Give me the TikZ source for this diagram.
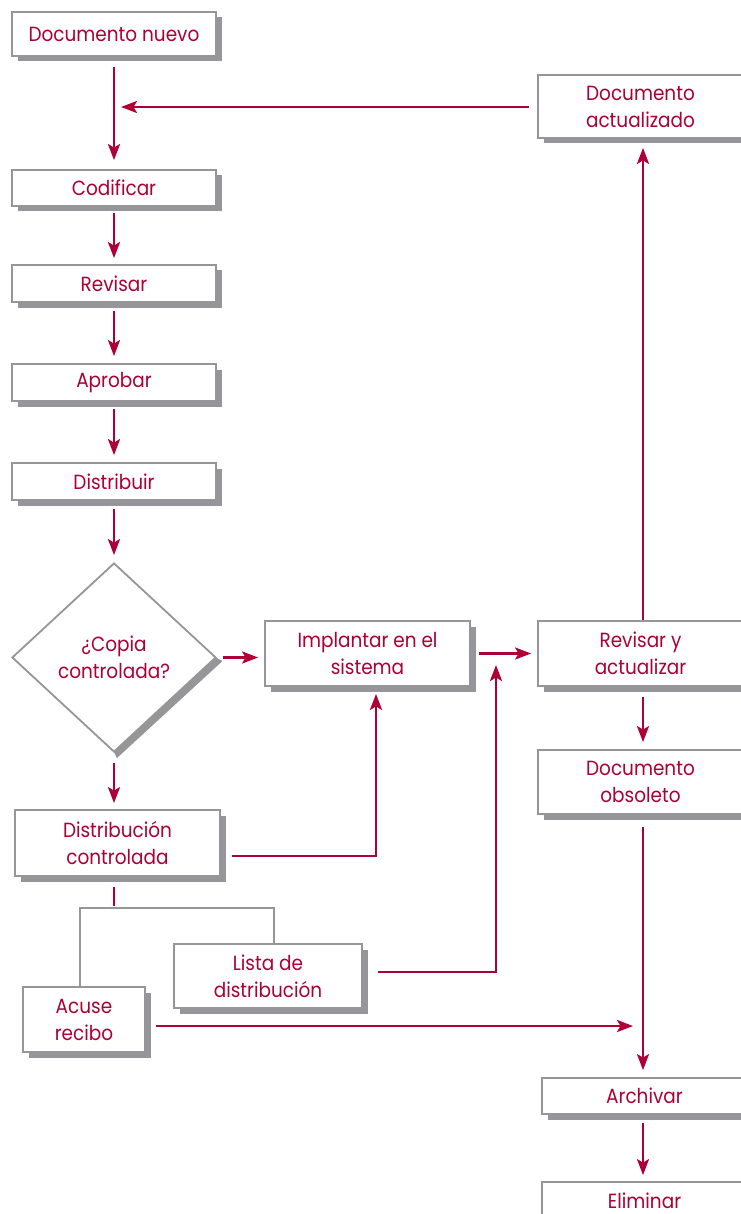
\documentclass[tikz,border=0pt]{standalone}
\usepackage{fontspec}
\setmainfont{Poppins}[FakeStretch=0.9]
\usetikzlibrary{arrows.meta,shapes.geometric,shadows}
\definecolor{crim}{RGB}{172,0,54}
\definecolor{bgray}{RGB}{150,150,152}
\definecolor{sgray}{RGB}{150,150,154}
\tikzset{
  box/.style={draw=bgray, line width=1.8pt, fill=white, text=crim, align=center,
    inner sep=0pt, font=\fontsize{20.5}{27}\selectfont,
    drop shadow={shadow xshift=5.5pt, shadow yshift=-5.5pt, fill=sgray, opacity=1}},
  arr/.style={draw=crim, line width=2.6pt, -{Stealth[length=16pt,width=12pt,inset=3.5pt]}},
  cline/.style={draw=crim, line width=2.6pt},
  gline/.style={draw=bgray, line width=2.2pt},
}
\begin{document}
\begin{tikzpicture}[x=1pt,y=-1pt]
\useasboundingbox (0,0) rectangle (740,1214);
% boxes
\node[box, minimum width=204pt, minimum height=44pt] (dn) at (114,34) {Documento nuevo};
\node[box, minimum width=204pt, minimum height=36pt] (cod) at (114,188) {Codificar};
\node[box, minimum width=204pt, minimum height=37pt] (rev) at (114,283.5) {Revisar};
\node[box, minimum width=204pt, minimum height=37pt] (apr) at (114,382.5) {Aprobar};
\node[box, minimum width=204pt, minimum height=37pt] (dis) at (114,481.5) {Distribuir};
% diamond
\fill[sgray] (216,657.5) -- (222.5,661) -- (117,758) -- (114,752) -- cycle;
\node[draw=bgray, line width=1.8pt, fill=white, text=crim, align=center, shape=diamond,
  inner sep=0pt, aspect=1, minimum width=204pt, minimum height=189pt,
  font=\fontsize{20.5}{27}\selectfont] (dia) at (114,657.5) {¿Copia\\controlada?};
\node[box, minimum width=205pt, minimum height=65pt] (imp) at (367.5,653.5) {Implantar en el\\sistema};
\node[box, minimum width=205pt, minimum height=65pt] (rya) at (640.5,653.5) {Revisar y\\actualizar};
\node[box, minimum width=205pt, minimum height=63pt] (da) at (640.5,106.5) {Documento\\actualizado};
\node[box, minimum width=205pt, minimum height=64pt] (dob) at (640.5,782) {Documento\\obsoleto};
\node[box, minimum width=205pt, minimum height=66pt] (dc) at (117.5,843) {Distribución\\controlada};
\node[box, minimum width=188pt, minimum height=64pt] (lis) at (268,976) {Lista de\\distribución};
\node[box, minimum width=122pt, minimum height=65pt] (acu) at (84,1019.5) {Acuse\\recibo};
\node[box, minimum width=205pt, minimum height=36pt] (arc) at (644.5,1096) {Archivar};
\node[box, minimum width=205pt, minimum height=37pt] (eli) at (644.5,1200.5) {Eliminar};
% helper coordinates
\coordinate (j1) at (121,107);
\coordinate (cx) at (643,0);
\coordinate (t0) at (114,906);
\coordinate (tl) at (80,908);
\coordinate (tr) at (274,908);
\coordinate (j2) at (496,665);
\coordinate (j3) at (633,1026);
% connectors
\draw[arr, shorten <=10pt, shorten >=9pt] (dn.south) -- (cod.north);
\draw[arr, shorten <=8pt] (da.west |- j1) -- (j1);
\draw[arr, shorten <=6pt, shorten >=6pt] (cod.south) -- (rev.north);
\draw[arr, shorten <=8pt, shorten >=7pt] (rev.south) -- (apr.north);
\draw[arr, shorten <=7pt, shorten >=7pt] (apr.south) -- (dis.north);
\draw[arr, shorten <=8pt, shorten >=7pt] (dis.south) -- (dia.north);
\draw[arr, shorten <=6pt, shorten >=6pt] (dia.east) -- (imp.west |- dia.east);
\draw[arr, shorten <=8pt, shorten >=6pt] (imp.east) -- (rya.west);
\draw[arr, shorten >=9pt] (rya.north -| cx) -- (da.south -| cx);
\draw[arr, shorten <=10pt, shorten >=7pt] (rya.south -| cx) -- (dob.north -| cx);
\draw[arr, shorten <=10pt, shorten >=6pt] (dia.south) -- (dia.south |- dc.north);
\draw[arr, shorten <=11pt, shorten >=7pt] ([yshift=-13pt]dc.east) -| ([xshift=8.5pt]imp.south);
\draw[cline, shorten <=10pt] (dc.south -| t0) -- (t0);
\draw[gline] (acu.north -| tl) -- (tl) -- (tr) -- (tr |- lis.north);
\draw[arr, shorten <=15pt] ([yshift=4pt]lis.east) -| (j2);
\draw[arr, shorten <=10pt] ([yshift=-6.5pt]acu.east) -- (j3);
\draw[arr, shorten <=12pt, shorten >=7pt] (dob.south -| cx) -- (arc.north -| cx);
\draw[arr, shorten <=8pt, shorten >=6pt] (arc.south -| cx) -- (eli.north -| cx);
\end{tikzpicture}
\end{document}
